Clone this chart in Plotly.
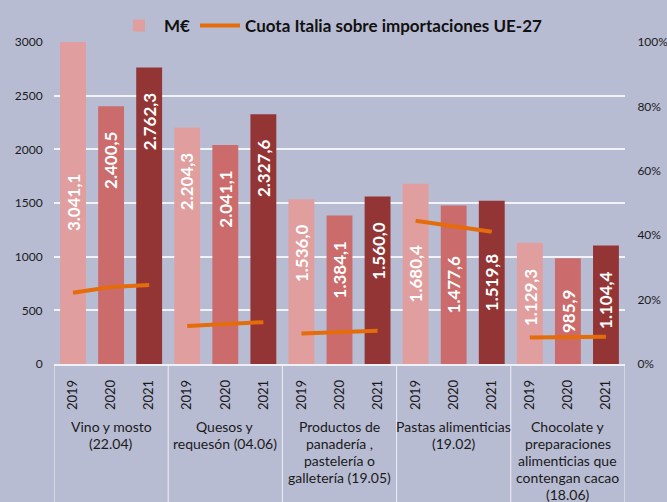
import plotly.graph_objects as go

# ---------------- data ----------------
group_labels = [
    "Vino y mosto<br>(22.04)",
    "Quesos y<br>requesón (04.06)",
    "Productos de<br>panadería ,<br>pastelería o<br>galletería (19.05)",
    "Pastas alimenticias<br>(19.02)",
    "Chocolate y<br>preparaciones<br>alimenticias que<br>contengan cacao<br>(18.06)",
]
years = ["2019", "2020", "2021"]

meur_2019 = [3041.1, 2204.3, 1536.0, 1680.4, 1129.3]
meur_2020 = [2400.5, 2041.1, 1384.1, 1477.6, 985.9]
meur_2021 = [2762.3, 2327.6, 1560.0, 1519.8, 1104.4]

share_2019 = [0.221, 0.118, 0.095, 0.445, 0.082]
share_2020 = [0.239, 0.124, 0.100, 0.428, 0.083]
share_2021 = [0.245, 0.130, 0.103, 0.411, 0.085]

y_ticks_left = [0, 500, 1000, 1500, 2000, 2500, 3000]

# ---------------- style ----------------
BG = "#B8BCD3"
BAR_COLORS = ["#E09E9E", "#CB6B6B", "#943535"]
ORANGE = "#E46C0A"
FONT = "Lato"
YMAX = 3000

L, R, T, B = 54, 42, 42, 138
W, H = 667, 502
PLOT_H = H - T - B
LABEL_PAD = 24     # px between bar top and its value label
LABEL_LEN = 60     # approx. px length of a rotated value label

series = [meur_2019, meur_2020, meur_2021]
shares = [share_2019, share_2020, share_2021]
n_groups = len(group_labels)
n_years = len(years)


def es_fmt(v):
    s = f"{v:,.1f}"
    return s.replace(",", "X").replace(".", ",").replace("X", ".")


fig = go.Figure()

for k, (vals, col) in enumerate(zip(series, BAR_COLORS)):
    xs = [g * n_years + k for g in range(n_groups)]
    fig.add_trace(go.Bar(
        x=xs, y=vals, width=0.68, marker=dict(color=col, line=dict(width=0)),
        name="M€", showlegend=(k == 0), legendgroup="bars",
        yaxis="y",
    ))

# share line, one segment per group
lx, ly = [], []
for g in range(n_groups):
    for k in range(n_years):
        lx.append(g * n_years + k)
        ly.append(shares[k][g])
    lx.append(None)
    ly.append(None)
fig.add_trace(go.Scatter(
    x=lx, y=ly, mode="lines", line=dict(color=ORANGE, width=4),
    name="Cuota Italia sobre importaciones UE-27", yaxis="y2",
    connectgaps=False,
))

annotations = []
# bar value labels: near the top of the bar, centred if clipped or if the
# share line would run through the label
for k, vals in enumerate(series):
    for g, v in enumerate(vals):
        x = g * n_years + k
        top_px = min(v, YMAX) / YMAX * PLOT_H
        line_px = shares[k][g] * PLOT_H
        lab_hi = top_px - LABEL_PAD
        lab_lo = lab_hi - LABEL_LEN
        hits_line = (lab_lo - 6) <= line_px <= (lab_hi + 6)
        if v > YMAX or hits_line:
            y, ya, ys = min(v, YMAX) / 2, "middle", 0
        else:
            y, ya, ys = v, "top", -LABEL_PAD
        annotations.append(dict(
            x=x, y=y, xref="x", yref="y", text=es_fmt(v), textangle=-90,
            showarrow=False, yanchor=ya, xanchor="center", yshift=ys,
            font=dict(family=FONT, size=17, color="white", weight="bold"),
        ))

# group labels (one annotation per line, 17 px spacing)
for g, lab in enumerate(group_labels):
    for i, line in enumerate(lab.split("<br>")):
        ypx = 62 + 17 * i  # below plot bottom
        annotations.append(dict(
            x=g * n_years + 1, y=-ypx / PLOT_H, xref="x", yref="paper",
            text=line, showarrow=False, xanchor="center", yanchor="middle",
            font=dict(family=FONT, size=14, color="#1a1a1a"),
            borderpad=0,
        ))

shapes = []
for g in range(n_groups + 1):
    xd = g * n_years - 0.5
    shapes.append(dict(
        type="line", xref="x", yref="paper", x0=xd, x1=xd, y0=0,
        y1=-B / PLOT_H, line=dict(color="#EEF0F6", width=1),
    ))

fig.update_layout(
    width=W, height=H,
    margin=dict(l=L, r=R, t=T, b=B, autoexpand=False),
    paper_bgcolor=BG, plot_bgcolor=BG,
    barmode="overlay",
    font=dict(family=FONT, color="#1a1a1a"),
    showlegend=True,
    legend=dict(
        orientation="h", x=0.485, xanchor="center", y=1 + 16 / PLOT_H,
        yanchor="middle", bgcolor="rgba(0,0,0,0)",
        font=dict(family=FONT, size=17, color="#111", weight="bold"),
        itemwidth=40, tracegroupgap=0,
    ),
    xaxis=dict(
        range=[-0.5, n_groups * n_years - 0.5],
        tickvals=list(range(n_groups * n_years)),
        ticktext=years * n_groups, tickangle=-90,
        tickfont=dict(family=FONT, size=13, color="#1a1a1a"),
        showgrid=False, zeroline=False, showline=True,
        linecolor="#EEF0F6", linewidth=1.5, automargin=False,
        ticks="outside", ticklen=9, tickcolor="rgba(0,0,0,0)",
    ),
    yaxis=dict(
        range=[0, YMAX], tickvals=y_ticks_left,
        tickfont=dict(family=FONT, size=12, color="#1a1a1a"),
        showgrid=True, gridcolor="#F2F3F8", gridwidth=1.5,
        zeroline=False, showline=False, automargin=False,
        ticks="outside", ticklen=8, tickcolor="rgba(0,0,0,0)",
    ),
    yaxis2=dict(
        range=[0, 1], dtick=0.2, tickformat=".0%", overlaying="y",
        side="right", showgrid=False, zeroline=False, showline=False,
        tickfont=dict(family=FONT, size=12, color="#1a1a1a"), automargin=False,
        ticks="outside", ticklen=9, tickcolor="rgba(0,0,0,0)",
    ),
    annotations=annotations,
    shapes=shapes,
)

fig.write_html(
    "out.html",
    config={"displayModeBar": False},
    post_script=f"document.body.style.margin='0';document.body.style.background='{BG}';",
)
